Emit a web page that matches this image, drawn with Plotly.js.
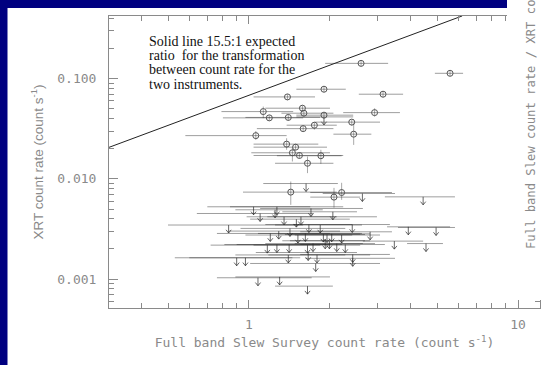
<!DOCTYPE html>
<html><head><meta charset="utf-8">
<script src="https://cdn.plot.ly/plotly-3.0.1.min.js"></script>
<style>html,body{margin:0;padding:0;background:#fff;}#chart{width:546px;height:365px;}</style>
</head><body><div id="chart"></div>
<script>
// Detections (XRT detected): slew rate, bounds, XRT rate, bounds
const detX   = [2.61,5.59,1.90,3.15,1.39,1.13,1.58,2.93,1.60,1.19,1.40,1.90,2.41,1.75,1.59,2.45,1.06,1.38,1.49,1.45,1.54,1.85,1.65,1.43,2.07,2.21];
const detXlo = [1.92,4.91,1.50,2.56,1.04,0.79,1.15,2.24,1.32,0.80,0.97,1.50,1.76,1.38,1.07,2.06,0.58,1.04,1.04,1.02,1.04,1.27,1.25,0.95,1.69,1.69];
const detXhi = [3.29,6.25,2.29,3.74,1.76,1.46,2.00,3.64,2.06,1.59,1.84,2.44,3.07,2.12,2.06,2.85,1.38,1.81,1.95,2.00,2.24,2.21,2.06,2.12,2.59,3.40];
const detY   = [0.142,0.113,0.0784,0.0699,0.0657,0.0469,0.0507,0.0458,0.0452,0.0406,0.0410,0.0432,0.0368,0.0343,0.0317,0.0279,0.0270,0.0222,0.0207,0.0182,0.0171,0.0170,0.0143,0.00737,0.00657,0.00730];
const detYlo = [0.133,0.106,0.073,0.065,0.061,0.0403,0.047,0.0418,0.042,0.038,0.038,0.040,0.034,0.031,0.0295,0.0218,0.0245,0.0195,0.0193,0.0149,0.0159,0.0141,0.0114,0.00550,0.00515,0.00617];
const detYhi = [0.152,0.121,0.084,0.075,0.070,0.0526,0.054,0.0506,0.048,0.043,0.044,0.046,0.039,0.037,0.034,0.0359,0.030,0.0254,0.0222,0.0204,0.0183,0.0195,0.0167,0.00940,0.00812,0.00913];

// Upper limits (XRT non-detections)
const ulX   = [1.04,1.27,1.10,1.25,1.35,1.50,1.56,0.84,1.20,1.29,1.42,1.52,1.62,1.17,1.27,1.41,1.65,1.73,1.66,1.79,0.90,0.97,1.40,1.77,1.08,1.30,1.65,1.63,2.64,4.44,1.70,2.05,1.67,1.84,2.42,3.91,4.96,2.82,1.89,1.95,2.03,2.21,3.47,4.55,1.92,1.99,2.12,2.28,2.43,2.43,1.90];
const ulXlo = [0.70,0.85,0.64,0.89,0.98,1.01,1.17,0.50,0.76,0.84,0.93,0.97,1.08,0.72,0.81,0.90,1.04,1.15,1.06,1.18,0.53,0.60,0.89,1.01,0.76,0.89,1.25,1.13,1.88,3.20,1.10,1.33,1.15,1.25,1.46,3.26,3.58,1.55,1.30,1.36,1.42,1.48,2.65,3.87,1.33,1.42,1.48,1.55,1.55,1.62,1.50];
const ulXhi = [1.69,2.24,1.73,1.88,2.12,2.37,2.99,1.59,2.00,2.18,2.28,2.42,2.63,1.84,2.00,2.22,2.59,2.65,2.52,2.82,1.45,1.55,2.28,3.07,1.71,2.00,2.05,2.14,3.49,5.83,2.65,2.52,2.42,2.63,3.34,5.59,5.83,3.40,2.59,2.70,2.82,3.07,4.44,5.26,2.70,2.82,2.94,3.20,3.34,3.49,2.44];
const ulY   = [0.00526,0.00526,0.00451,0.00491,0.00418,0.00396,0.00418,0.00346,0.00285,0.00301,0.00320,0.00275,0.00285,0.00218,0.00221,0.00221,0.00218,0.00226,0.00184,0.00174,0.00163,0.00163,0.00174,0.00143,0.00103,0.00105,0.00085,0.00898,0.00714,0.00661,0.00506,0.00469,0.00350,0.00346,0.00350,0.00332,0.00327,0.00296,0.00281,0.00278,0.00283,0.00275,0.00239,0.00226,0.00241,0.00241,0.00226,0.00221,0.00176,0.00161,0.0415];

// Expected-ratio line (end points)
const ratioLineX = [0.30, 6.2];
const ratioLineY = [0.0205, 0.422];

const xTickVals = [1, 10];
const xTickText = ['1', '10'];
const xMinorVals = [0.4,0.5,0.6,0.7,0.8,0.9,2,3,4,5,6,7,8,9];
const yTickVals = [0.001, 0.01, 0.1];
const yTickText = ['0.001', '0.010', '0.100'];
const yMinorVals = [0.0006,0.0007,0.0008,0.0009,0.002,0.003,0.004,0.005,0.006,0.007,0.008,0.009,0.02,0.03,0.04,0.05,0.06,0.07,0.08,0.09,0.2,0.3,0.4];

const noteLines = ['Solid line 15.5:1 expected','ratio&nbsp; for the transformation','between count rate for the','two instruments.'];

// arrow geometry (style): stem length and head size in log-units
const stemF = Math.pow(10, -8/100.3);
const headDY = Math.pow(10, 3.2/100.3);
const headDX = Math.pow(10, 2.6/269);
const arX = [], arY = [];
ulX.forEach((x, i) => {
  const y = ulY[i], tip = y*stemF;
  arX.push(x, x, null, x/headDX, x, x*headDX, null);
  arY.push(y, tip, null, tip*headDY, tip, tip*headDY, null);
});

const gray = '#8a8a8a';
const barCol = 'rgba(40,40,40,0.45)';
const monoF = {family:'DejaVu Sans Mono', size:13, color:gray};

const traces = [
  {x: ratioLineX, y: ratioLineY, mode:'lines', line:{color:'#222', width:1}, hoverinfo:'skip'},
  {x: ulX, y: ulY, mode:'markers', marker:{size:1, color:'rgba(0,0,0,0)'},
   error_x:{type:'data', symmetric:false, array: ulXhi.map((h,i)=>h-ulX[i]), arrayminus: ulX.map((x,i)=>x-ulXlo[i]), color:barCol, thickness:1, width:0}},
  {x: arX, y: arY, mode:'lines', connectgaps:false, line:{color:'rgba(40,40,40,0.7)', width:1}},
  {x: detX, y: detY, mode:'markers', marker:{symbol:'circle-open', size:6, color:'#555', line:{width:1}},
   error_x:{type:'data', symmetric:false, array: detXhi.map((h,i)=>h-detX[i]), arrayminus: detX.map((x,i)=>x-detXlo[i]), color:barCol, thickness:1, width:0},
   error_y:{type:'data', symmetric:false, array: detYhi.map((h,i)=>h-detY[i]), arrayminus: detY.map((y,i)=>y-detYlo[i]), color:'rgba(40,40,40,0.4)', thickness:1, width:0}}
];

const px2x = px => (px-109)/431;
const px2y = py => (308-py)/292;
const noteY = [41, 55.3, 69.6, 84];
const annotations = noteLines.map((t,i)=>({xref:'paper', yref:'paper', x:px2x(147), y:px2y(noteY[i]), xanchor:'left', yanchor:'middle', text:t, showarrow:false, font:{family:'Liberation Serif', size:14, color:'#111'}}));
annotations.push({xref:'paper', yref:'paper', x:px2x(531), y:px2y(251), xanchor:'center', yanchor:'bottom', textangle:-90, text:'Full band Slew count rate / XRT count rate', showarrow:false, font:{family:'DejaVu Sans Mono', size:12.2, color:gray}});

const layout = {
  width:546, height:365,
  margin:{l:109, r:6, t:16, b:57, pad:0},
  paper_bgcolor:'#ffffff', plot_bgcolor:'#ffffff',
  showlegend:false,
  xaxis:{type:'log', range:[-0.5204, 1.0818], autorange:false, tickmode:'array', tickvals:xTickVals, ticktext:xTickText,
    ticks:'inside', ticklen:8, tickcolor:gray, tickwidth:1, showline:true, linecolor:gray, linewidth:1, mirror:'ticks',
    showgrid:false, zeroline:false, automargin:false, tickfont:monoF, ticklabelstandoff:4,
    minor:{tickmode:'array', tickvals:xMinorVals, ticks:'inside', ticklen:5, tickcolor:gray, showgrid:false},
    title:{text:'Full band Slew Survey count rate (count s<sup>-1</sup>)', font:monoF, standoff:7}},
  yaxis:{type:'log', range:[-3.289, -0.375], autorange:false, tickmode:'array', tickvals:yTickVals, ticktext:yTickText,
    ticks:'inside', ticklen:9, tickcolor:gray, tickwidth:1, showline:true, linecolor:gray, linewidth:1, mirror:'ticks',
    showgrid:false, zeroline:false, automargin:false, tickfont:monoF, ticklabelstandoff:9,
    minor:{tickmode:'array', tickvals:yMinorVals, ticks:'inside', ticklen:5, tickcolor:gray, showgrid:false},
    title:{text:'XRT count rate (count s<sup>-1</sup>)', font:{family:'Liberation Sans', size:13.5, color:gray}, standoff:10}},
  shapes:[
    {type:'rect', xref:'paper', yref:'paper', x0:px2x(507), x1:px2x(560), y0:px2y(300), y1:px2y(-10), fillcolor:'#ffffff', line:{width:0}, layer:'above'},
    {type:'rect', xref:'paper', yref:'paper', x0:px2x(-5), x1:px2x(7.5), y0:px2y(380), y1:px2y(-10), fillcolor:'#000080', line:{width:0}, layer:'above'},
    {type:'rect', xref:'paper', yref:'paper', x0:px2x(-5), x1:px2x(507), y0:px2y(8), y1:px2y(-10), fillcolor:'#000080', line:{width:0}, layer:'above'}
  ],
  annotations: annotations
};
Plotly.newPlot('chart', traces, layout, {staticPlot:true, displayModeBar:false});
</script></body></html>
